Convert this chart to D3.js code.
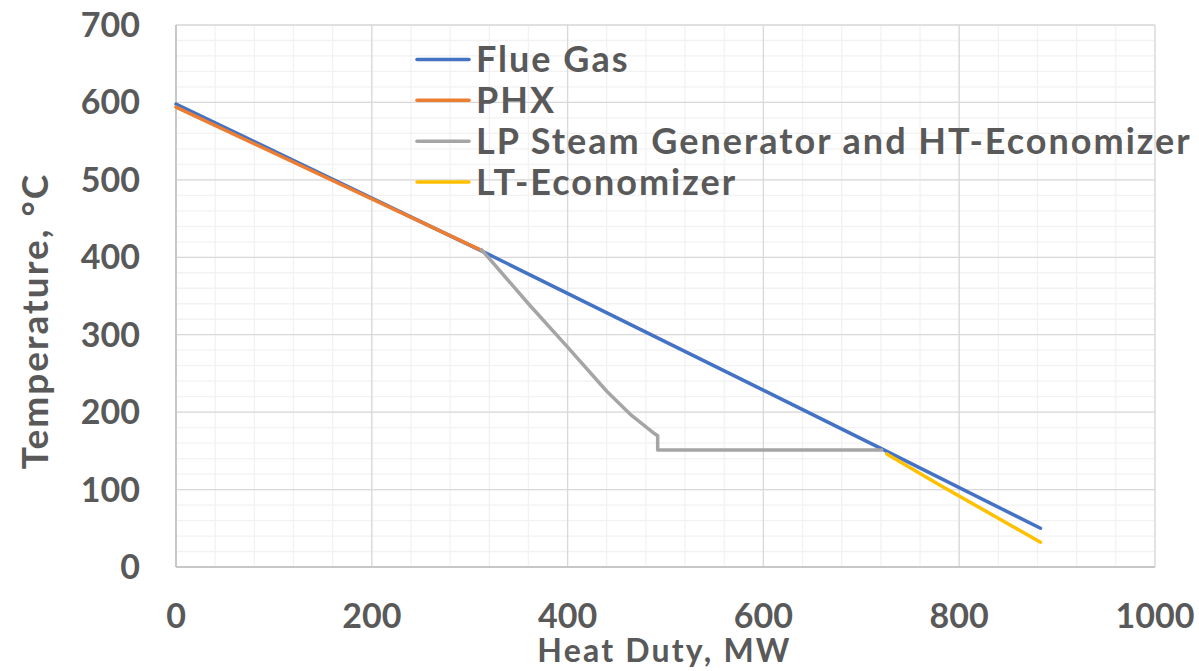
<!DOCTYPE html>
<html>
<head>
<meta charset="utf-8">
<script src="https://cdn.jsdelivr.net/npm/d3@7"></script>
<style>
  body { margin: 0; background: #fff; }
  text { font-family: Lato, "Open Sans", sans-serif; font-weight: bold; fill: #595959; }
</style>
</head>
<body>
<div id="viz"></div>
<script>
// series values (duty in MW, temperature in degC)
let flue_duty = [0, 311, 722, 883];
let flue_temp = [598, 409, 152, 50];
let phx_duty = [0, 312];
let phx_temp = [594, 409];
let lp_duty = [312, 360, 400, 440, 465, 489, 492, 492, 721];
let lp_temp = [410, 340, 284, 227, 196, 172, 169.5, 151, 151];
let lt_duty = [726, 780, 883];
let lt_temp = [146, 106, 32];

let series_names = ['Flue Gas', 'PHX', 'LP Steam Generator and HT-Economizer', 'LT-Economizer'];
let color = ['#4472C4', '#ED7D31', '#A5A5A5', '#FFC000'];
let x_ticks = [0, 200, 400, 600, 800, 1000];
let y_ticks = [0, 100, 200, 300, 400, 500, 600, 700];

window.onload = function () {
    graph()
}

function graph() {
    const width = 1199, height = 671;
    const margin = {top: 25, right: 44, bottom: 104, left: 176};

    const svg = d3.select('#viz').append('svg')
        .attr('width', width)
        .attr('height', height);

    const x = d3.scaleLinear().domain([0, 1000]).range([margin.left, width - margin.right]);
    const y = d3.scaleLinear().domain([0, 700]).range([height - margin.bottom, margin.top]);

    // minor grid
    const grid = svg.append('g');
    grid.selectAll('.vminor')
        .data(d3.range(0, 1001, 40))
        .join('line')
        .attr('x1', d => x(d)).attr('x2', d => x(d))
        .attr('y1', y(0)).attr('y2', y(700))
        .attr('stroke', '#f2f2f2').attr('stroke-width', 1.3);
    grid.selectAll('.hminor')
        .data(d3.range(0, 701, 20))
        .join('line')
        .attr('x1', x(0)).attr('x2', x(1000))
        .attr('y1', d => y(d)).attr('y2', d => y(d))
        .attr('stroke', '#f2f2f2').attr('stroke-width', 1.3);

    // major grid
    svg.append('g').selectAll('line')
        .data(x_ticks)
        .join('line')
        .attr('x1', d => x(d)).attr('x2', d => x(d))
        .attr('y1', y(0)).attr('y2', y(700))
        .attr('stroke', '#d9d9d9').attr('stroke-width', 1.3);
    svg.append('g').selectAll('line')
        .data(y_ticks)
        .join('line')
        .attr('x1', x(0)).attr('x2', x(1000))
        .attr('y1', d => y(d)).attr('y2', d => y(d))
        .attr('stroke', '#d9d9d9').attr('stroke-width', 1.3);

    // axis lines
    svg.append('line')
        .attr('x1', x(0)).attr('x2', x(0)).attr('y1', y(0)).attr('y2', y(700))
        .attr('stroke', '#bfbfbf').attr('stroke-width', 1.5);
    svg.append('line')
        .attr('x1', x(0)).attr('x2', x(1000)).attr('y1', y(0)).attr('y2', y(0))
        .attr('stroke', '#bfbfbf').attr('stroke-width', 1.5);

    // tick labels
    svg.append('g').selectAll('text')
        .data(x_ticks)
        .join('text')
        .attr('x', d => x(d))
        .attr('y', y(0) + 61)
        .attr('text-anchor', 'middle')
        .attr('font-size', 34)
        .text(d => d);
    svg.append('g').selectAll('text')
        .data(y_ticks)
        .join('text')
        .attr('x', x(0) - 36)
        .attr('y', d => y(d) + 12)
        .attr('text-anchor', 'end')
        .attr('font-size', 34)
        .text(d => d);

    // axis titles
    svg.append('text')
        .attr('x', (x(0) + x(1000)) / 2 - 1)
        .attr('y', y(0) + 95)
        .attr('text-anchor', 'middle')
        .attr('font-size', 32)
        .attr('letter-spacing', 2.2)
        .text('Heat Duty, MW');
    svg.append('text')
        .attr('transform', 'translate(48,' + 321 + ') rotate(-90)')
        .attr('text-anchor', 'middle')
        .attr('font-size', 37)
        .attr('letter-spacing', 2)
        .text('Temperature, °C');

    // series
    const all_series = [
        {duty: flue_duty, temp: flue_temp},
        {duty: phx_duty, temp: phx_temp},
        {duty: lp_duty, temp: lp_temp},
        {duty: lt_duty, temp: lt_temp}
    ];
    const line = d3.line().x(d => x(d[0])).y(d => y(d[1]));
    svg.append('g').selectAll('path')
        .data(all_series)
        .join('path')
        .attr('d', d => line(d.duty.map((v, i) => [v, d.temp[i]])))
        .attr('fill', 'none')
        .attr('stroke', (d, i) => color[i])
        .attr('stroke-width', 3.5)
        .attr('stroke-linecap', 'round')
        .attr('stroke-linejoin', 'round');

    // legend
    const legend = svg.append('g');
    const leg_y = d3.scalePoint().domain(series_names).range([59.5, 182]);
    legend.selectAll('line')
        .data(series_names)
        .join('line')
        .attr('x1', 417).attr('x2', 469)
        .attr('y1', d => leg_y(d)).attr('y2', d => leg_y(d))
        .attr('stroke', (d, i) => color[i])
        .attr('stroke-width', 3.5)
        .attr('stroke-linecap', 'round');
    legend.selectAll('text')
        .data(series_names)
        .join('text')
        .attr('x', 476)
        .attr('y', d => leg_y(d) + 12.5)
        .attr('font-size', 36)
        .attr('letter-spacing', 2)
        .text(d => d);
}
</script>
</body>
</html>
